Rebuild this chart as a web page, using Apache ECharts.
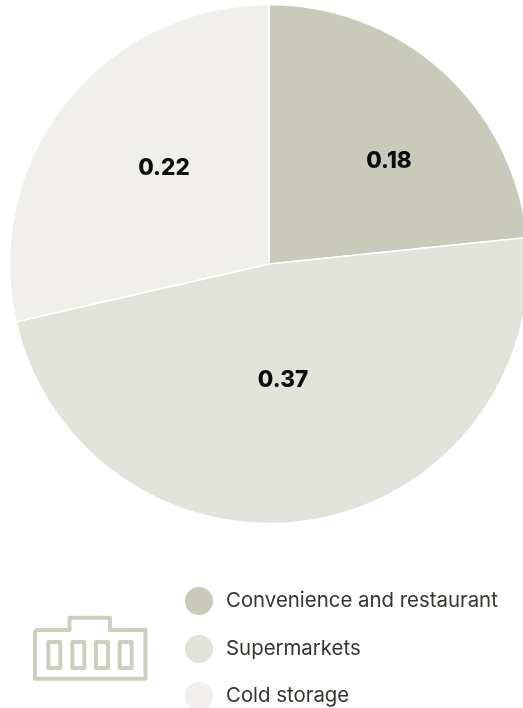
<!DOCTYPE html>
<html>
<head>
<meta charset="utf-8">
<style>html,body{margin:0;padding:0;background:#fff}#chart{width:523px;height:708px}</style>
<script src="https://cdn.jsdelivr.net/npm/echarts@6/dist/echarts.min.js"></script>
</head>
<body>
<div id="chart"></div>
<script>
// Store formats and their shares
const categories = ['Convenience and restaurant', 'Supermarkets', 'Cold storage'];
const shares = [0.18, 0.37, 0.22];
const colors = ['#C9CAB9', '#E2E3DA', '#F0EFEB'];

// Where each share label sits on the canvas
const labelSpots = [[389, 161], [283, 380], [164, 168]];
const legendTops = [585, 633, 680];

const iconColor = '#CDCEBE';
const iconStyle = { stroke: iconColor, lineWidth: 4, fill: 'none', lineJoin: 'round' };
const iconWindows = [48.3, 72.3, 96, 119.7];

const chart = echarts.init(document.getElementById('chart'), null, { renderer: 'canvas' });
chart.setOption({
  animation: false,
  backgroundColor: '#ffffff',
  color: colors,
  // One legend block per row so the last row can run to the canvas edge
  legend: categories.map((name, i) => ({
    orient: 'vertical',
    left: 183,
    top: legendTops[i],
    padding: 0,
    itemWidth: 30,
    itemHeight: 30,
    icon: 'circle',
    data: [name],
    textStyle: { fontFamily: 'Inter', fontSize: 20.4, color: '#36342E', padding: [0, 0, 0, 7] }
  })),
  series: [{
    type: 'pie',
    center: [269, 264],
    radius: [0, 259.5],
    startAngle: 90,
    clockwise: true,
    silent: true,
    data: categories.map((name, i) => ({ name, value: shares[i] })),
    itemStyle: { borderColor: '#ffffff', borderWidth: 1.5 },
    label: {
      show: true,
      position: 'inside',
      formatter: p => p.value.toFixed(2),
      fontFamily: 'Inter',
      fontWeight: 800,
      fontSize: 22.5,
      color: '#0c0c0c',
      align: 'center',
      verticalAlign: 'middle'
    },
    labelLine: { show: false },
    labelLayout: p => ({ x: labelSpots[p.dataIndex][0], y: labelSpots[p.dataIndex][1], align: 'center', verticalAlign: 'middle' })
  }],
  graphic: [
    {
      type: 'polyline',
      shape: { points: [[35, 630], [69.5, 630], [69.5, 617.7], [110, 617.7], [110, 630], [145.5, 630], [145.5, 678.7], [35, 678.7], [35, 630]] },
      style: iconStyle
    },
    ...iconWindows.map(x => ({
      type: 'rect',
      shape: { x, y: 642, width: 12, height: 26 },
      style: iconStyle
    }))
  ]
});
</script>
</body>
</html>
